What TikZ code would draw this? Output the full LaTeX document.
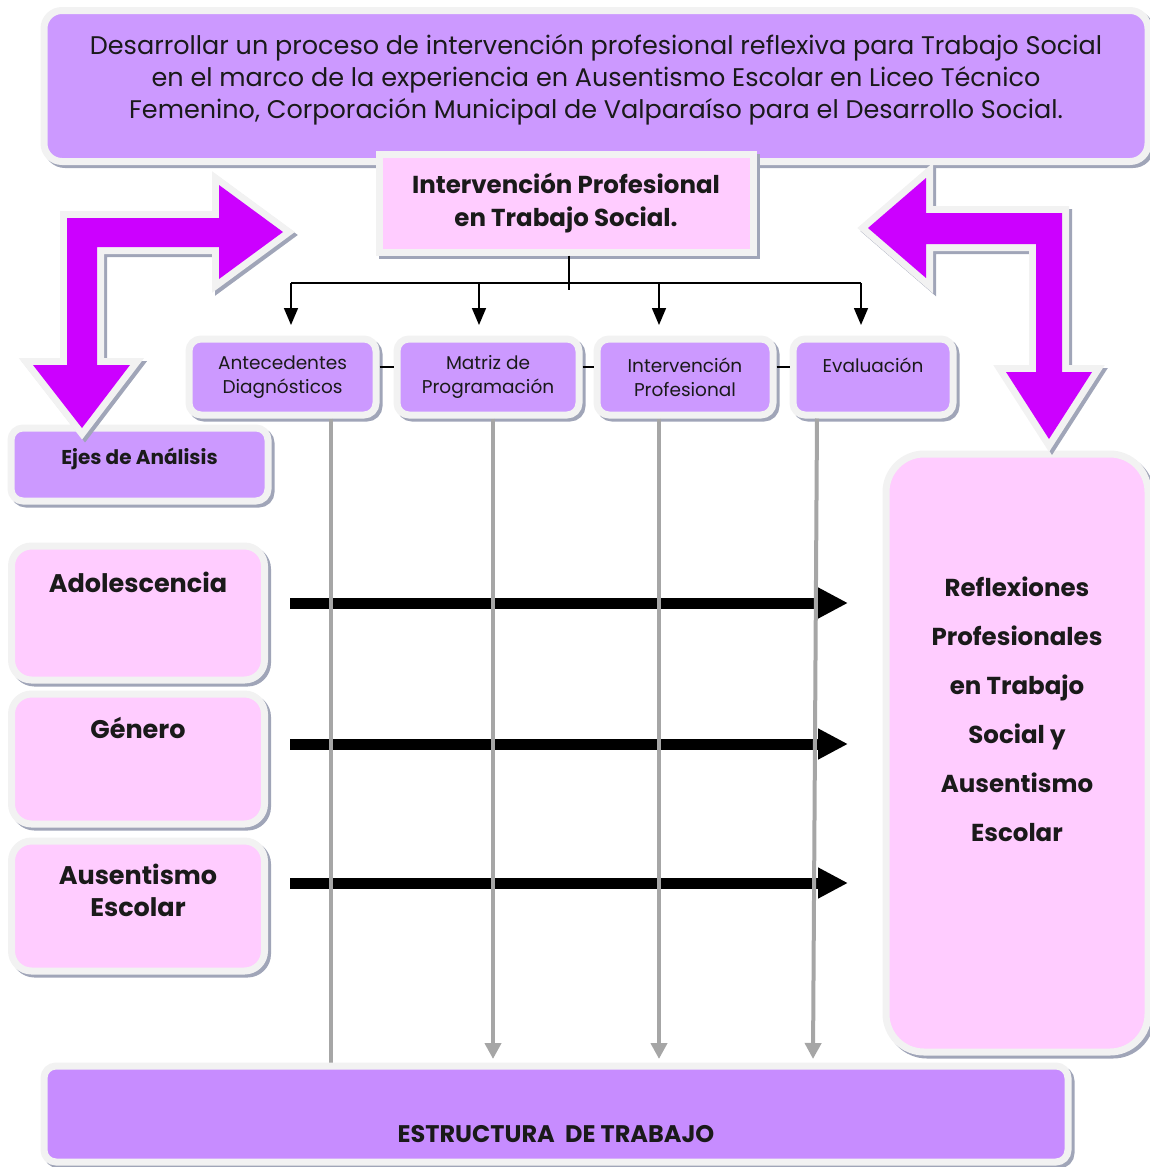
\documentclass[tikz,border=0pt]{standalone}
\usepackage{fontspec}
\setmainfont{Poppins}
\usetikzlibrary{arrows.meta}
\definecolor{lav}{HTML}{CC99FF}
\definecolor{pinkf}{HTML}{FFCCFF}
\definecolor{lavb}{HTML}{C78CFF}
\definecolor{mag}{HTML}{CC00FF}
\definecolor{bordc}{HTML}{F2F2F2}
\definecolor{shadc}{HTML}{A0A5B8}
\definecolor{grayarr}{HTML}{A6A6A6}
\definecolor{txt}{HTML}{1A1A1A}
\begin{document}
\begin{tikzpicture}[x=1pt,y=-1pt,
  box/.style={draw=bordc, line width=7pt, inner sep=0pt, align=center, text=txt,
     preaction={draw=shadc, fill=shadc, line width=7pt, transform canvas={shift={(3pt,-3pt)}}}},
  bentarrow/.style={fill=mag, line join=miter,
     preaction={draw=shadc, fill=shadc, line width=14pt, line join=miter, transform canvas={shift={(3pt,-3pt)}}},
     preaction={draw=bordc, line width=14pt, line join=miter}},
  lbl/.style={align=center, text=txt, inner sep=0pt},
  smallbox/.style={box, fill=lav, rounded corners=12pt, minimum height=76pt, font=\fontsize{18.5}{24}\selectfont},
  sidebox/.style={box, fill=pinkf, rounded corners=20pt, minimum width=253pt},
  grayline/.style={draw=grayarr, line width=4pt},
  grayarrow/.style={grayline, -{Triangle[length=16pt,width=16pt]}},
  blackarrow/.style={draw=black, line width=11pt, -{Triangle[length=30pt,width=29pt]}},
  thinarrow/.style={draw=black, line width=1.6pt, -{Triangle[length=17pt,width=14pt]}},
]
\useasboundingbox (0,0) rectangle (1150,1167);

% top objective box
\node[box, fill=lav, rounded corners=18pt, minimum width=1104pt, minimum height=151pt] (top) at (596,86) {};
\node[lbl, font=\fontsize{25.5}{32}\selectfont] (topT) at ([yshift=6pt]top.center)
 {Desarrollar un proceso de intervención profesional reflexiva para Trabajo Social\\
  en el marco de la experiencia en Ausentismo Escolar en Liceo Técnico\\
  Femenino, Corporación Municipal de Valparaíso para el Desarrollo Social.};

% middle box
\node[box, fill=pinkf, minimum width=374pt, minimum height=98pt, font=\bfseries\fontsize{24.5}{33}\selectfont] (mid) at (566,203)
 {Intervención Profesional\\en Trabajo Social.};

% four stage boxes
\node[smallbox, minimum width=187pt] (A) at (282.5,377) {Antecedentes\\Diagnósticos};
\node[smallbox, minimum width=182pt] (B) at (488,377) {Matriz de\\Programación};
\node[smallbox, minimum width=176pt] (C) at (685,377) {Intervención\\Profesional};
\node[smallbox, minimum width=160pt] (D) at (873,377) {Evaluación\\\phantom{Evaluación}};

% left axes
\node[box, fill=lav, rounded corners=12pt, minimum width=257pt, minimum height=73pt] (ejes) at (139.5,464.5) {};
\node[lbl, font=\bfseries\fontsize{20}{24}\selectfont] (ejesT) at ([yshift=6pt]ejes.center) {Ejes de Análisis};

\node[sidebox, minimum height=134pt] (adol) at (138,613) {};
\node[lbl, font=\bfseries\fontsize{25.5}{32}\selectfont] (adolT) at ([yshift=31pt]adol.center) {Adolescencia};
\node[sidebox, minimum height=130pt] (gen) at (138,759) {};
\node[lbl, font=\bfseries\fontsize{25.5}{32}\selectfont] (genT) at ([yshift=31pt]gen.center) {Género};
\node[sidebox, minimum height=130pt] (aus) at (138,906) {};
\node[lbl, font=\bfseries\fontsize{25.5}{32}\selectfont] (ausT) at ([yshift=16pt]aus.center) {Ausentismo\\Escolar};

% right reflections box
\node[box, fill=pinkf, rounded corners=38pt, minimum width=262pt, minimum height=598pt] (refl) at (1017,753) {};
\node[lbl, font=\bfseries\fontsize{24.5}{49}\selectfont] (reflT) at ([yshift=44pt]refl.center)
 {Reflexiones\\Profesionales\\en Trabajo\\Social y\\Ausentismo\\Escolar};

% black horizontal arrows
\draw[blackarrow] (adol.east -| 290,0) ++(0,-10) -- ++(558,0);
\draw[blackarrow] (gen.east -| 290,0) ++(0,-15) -- ++(558,0);
\draw[blackarrow] (aus.east -| 290,0) ++(0,-23) -- ++(558,0);

% gray vertical connectors
\draw[grayline] (A.south -| 331,0) -- (331,1066);
\draw[grayarrow] (B.south -| 493,0) -- (493,1059);
\draw[grayarrow] (C.south -| 659,0) -- (659,1059);
\draw[grayarrow] (D.south -| 817,0) -- (813,1059);

% bottom box
\node[box, fill=lavb, rounded corners=12pt, minimum width=1024pt, minimum height=96pt] (bot) at (556,1114) {};
\node[lbl, font=\bfseries\fontsize{24}{28}\selectfont] (botT) at ([yshift=-20pt]bot.center) {ESTRUCTURA\ \ DE TRABAJO};

% tree connector
\coordinate (hub) at (569,283);
\draw[line width=1.6pt] (mid.south -| hub) -- ([yshift=-7pt]hub);
\draw[line width=1.6pt] (291,283) -- (861,283);
\draw[thinarrow] (291,283) -- (291,325);
\draw[thinarrow] (479,283) -- (479,325);
\draw[thinarrow] (659,283) -- (659,325);
\draw[thinarrow] (861,283) -- (861,325);

% dashes between stage boxes
\draw[line width=1.6pt] ([yshift=10pt]A.east) -- ([yshift=10pt]B.west);
\draw[line width=1.6pt] ([yshift=10pt]B.east) -- ([yshift=10pt]C.west);
\draw[line width=1.6pt] ([yshift=10pt]C.east) -- ([yshift=10pt]D.west);

% bent arrows
\path[bentarrow] (67,218) -- (219,218) -- (219,185) -- (283,232) -- (219,279) -- (219,247) -- (97,247)
  -- (97,365) -- (130,365) -- (82,428) -- (33,365) -- (67,365) -- cycle;
\path[bentarrow] (868,228) -- (926,178) -- (926,213) -- (1062,213) -- (1062,372) -- (1092,372) -- (1049,439)
  -- (1006,372) -- (1036,372) -- (1036,244) -- (926,244) -- (926,278) -- cycle;
\end{tikzpicture}
\end{document}
